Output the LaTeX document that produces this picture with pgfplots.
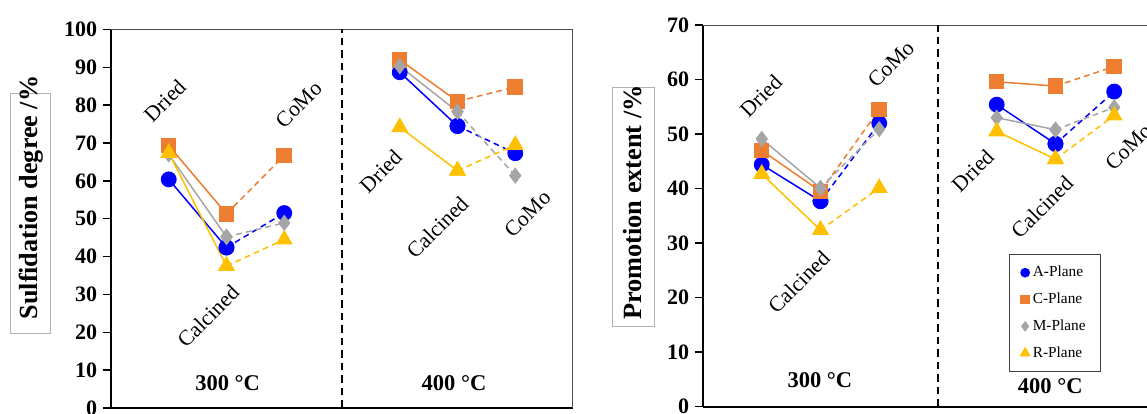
\documentclass[border=0pt]{standalone}
\usepackage{fontspec}
\setmainfont{Liberation Serif}
\usepackage{pgfplots}
\pgfplotsset{compat=1.18}

\definecolor{cA}{RGB}{0,0,255}
\definecolor{cC}{RGB}{237,125,49}
\definecolor{cM}{RGB}{165,165,165}
\definecolor{cR}{RGB}{255,192,0}

\pgfplotsset{
  sA/.style={cA, line width=0.9pt, mark=*, mark size=4.3pt, mark options={solid, fill=cA, draw=cA}},
  sC/.style={cC, line width=0.9pt, mark=square*, mark size=4.2pt, mark options={solid, fill=cC, draw=cC}},
  sM/.style={cM, line width=0.9pt, mark=diamond*, mark size=4.2pt, mark options={solid, fill=cM, draw=cM}},
  sR/.style={cR, line width=0.9pt, mark=triangle*, mark size=5pt, mark options={solid, fill=cR, draw=cR}},
  dsh/.style={dash pattern=on 3.5pt off 2.5pt},
  panel/.style={
    scale only axis, xmin=0, xmax=8, ymin=0,
    axis x line=bottom, axis y line=left,
    axis line style={-, black, line width=1pt},
    xtick=\empty, ytick distance=10,
    tick align=outside, major tick length=4.8pt,
    tick style={black, line width=0.9pt},
    yticklabel style={font=\bfseries\fontsize{13.2}{14}\selectfont},
    /pgf/number format/assume math mode=true,
    clip=false,
  },
}
\tikzset{
  cat/.style={rotate=45, font=\fontsize{13}{14}\selectfont},
  temp/.style={font=\bfseries\fontsize{13.5}{15}\selectfont},
}

\begin{document}
\begin{tikzpicture}[x=0.6pt, y=0.6pt]

% y-label boxes
\draw[black!30, line width=0.5pt] (10,81) rectangle (50.7,320.7);
\node[rotate=90, font=\bfseries\fontsize{15.7}{17}\selectfont] at (30.7,216.5) {Sulfidation degree /\%};
\draw[black!30, line width=0.5pt] (612.5,88) rectangle (654,327);
\node[rotate=90, font=\bfseries\fontsize{15.8}{17}\selectfont] at (632.4,211.5) {Promotion extent /\%};

% ---------- left panel ----------
\begin{axis}[panel, at={(66.6pt,3.6pt)}, anchor=south west,
  width=277.2pt, height=227.1pt, ymax=100]
\draw[black!70, line width=0.6pt] (rel axis cs:0,1) -- (rel axis cs:1,1) -- (rel axis cs:1,0);
\draw[black, line width=1pt, dash pattern=on 4.5pt off 3pt] (axis cs:4,0) -- (axis cs:4,100);

\addplot[sA, forget plot] coordinates {(1,60.4) (2,42.4)};
\addplot[sA, dsh, forget plot] coordinates {(2,42.4) (3,51.5)};
\addplot[sA, forget plot] coordinates {(5,88.7) (6,74.5)};
\addplot[sA, dsh, forget plot] coordinates {(6,74.5) (7,67.3)};

\addplot[sC, forget plot] coordinates {(1,69.3) (2,51.3)};
\addplot[sC, dsh, forget plot] coordinates {(2,51.3) (3,66.7)};
\addplot[sC, forget plot] coordinates {(5,92.0) (6,81.0)};
\addplot[sC, dsh, forget plot] coordinates {(6,81.0) (7,84.8)};

\addplot[sM, forget plot] coordinates {(1,67.0) (2,45.2)};
\addplot[sM, dsh, forget plot] coordinates {(2,45.2) (3,48.9)};
\addplot[sM, forget plot] coordinates {(5,90.3) (6,78.3)};
\addplot[sM, dsh, forget plot] coordinates {(6,78.3) (7,61.4)};

\addplot[sR, forget plot] coordinates {(1,67.4) (2,37.5)};
\addplot[sR, dsh, forget plot] coordinates {(2,37.5) (3,44.5)};
\addplot[sR, forget plot] coordinates {(5,74.2) (6,62.7)};
\addplot[sR, dsh, forget plot] coordinates {(6,62.7) (7,69.5)};

\node[cat] at (axis cs:0.93,81.2) {Dried};
\node[cat] at (axis cs:1.68,24.3) {Calcined};
\node[cat] at (axis cs:3.25,80.2) {CoMo};
\node[cat] at (axis cs:4.67,62.5) {Dried};
\node[cat] at (axis cs:5.65,47.7) {Calcined};
\node[cat] at (axis cs:7.21,51.3) {CoMo};
\node[temp] at (axis cs:2.02,6.7) {300 °C};
\node[temp] at (axis cs:5.94,6.7) {400 °C};
\end{axis}

% ---------- right panel ----------
\begin{axis}[panel, at={(421.8pt,4.38pt)}, anchor=south west,
  width=282pt, height=229pt, ymax=70,
  legend style={at={(axis cs:5.99,17.2)}, anchor=center, draw=black!75, line width=0.8pt,
    font=\fontsize{9.2}{10}\selectfont, row sep=4.2pt, inner xsep=7pt, inner ysep=5pt,
    cells={anchor=west}},
  legend image code/.code={\draw[#1] plot coordinates {(0.12cm,0cm)};}]
\draw[black!70, line width=0.6pt] (rel axis cs:0,1) -- (rel axis cs:1,1) -- (rel axis cs:1,0);
\draw[black, line width=1pt, dash pattern=on 4.5pt off 3pt] (axis cs:4,0) -- (axis cs:4,70);

\addplot[sA, forget plot] coordinates {(1,44.4) (2,37.7)};
\addplot[sA, dsh, forget plot] coordinates {(2,37.7) (3,52.0)};
\addplot[sA, forget plot] coordinates {(5,55.4) (6,48.2)};
\addplot[sA, dsh, forget plot] coordinates {(6,48.2) (7,57.8)};

\addplot[sC, forget plot] coordinates {(1,47.0) (2,39.5)};
\addplot[sC, dsh, forget plot] coordinates {(2,39.5) (3,54.5)};
\addplot[sC, forget plot] coordinates {(5,59.6) (6,58.8)};
\addplot[sC, dsh, forget plot] coordinates {(6,58.8) (7,62.4)};

\addplot[sM, forget plot] coordinates {(1,49.1) (2,40.1)};
\addplot[sM, dsh, forget plot] coordinates {(2,40.1) (3,50.9)};
\addplot[sM, forget plot] coordinates {(5,53.0) (6,50.8)};
\addplot[sM, dsh, forget plot] coordinates {(6,50.8) (7,54.9)};

\addplot[sR, forget plot] coordinates {(1,42.7) (2,32.4)};
\addplot[sR, dsh, forget plot] coordinates {(2,32.4) (3,40.1)};
\addplot[sR, forget plot] coordinates {(5,50.5) (6,45.4)};
\addplot[sR, dsh, forget plot] coordinates {(6,45.4) (7,53.4)};

\addlegendimage{only marks, mark=*, mark size=2.5pt, cA, fill=cA}
\addlegendentry{A-Plane}
\addlegendimage{only marks, mark=square*, mark size=2.5pt, cC, fill=cC}
\addlegendentry{C-Plane}
\addlegendimage{only marks, mark=diamond*, mark size=2.6pt, cM, fill=cM}
\addlegendentry{M-Plane}
\addlegendimage{only marks, mark=triangle*, mark size=3pt, cR, fill=cR}
\addlegendentry{R-Plane}

\node[cat] at (axis cs:0.985,57.0) {Dried};
\node[cat] at (axis cs:1.63,22.9) {Calcined};
\node[cat] at (axis cs:3.2,62.8) {CoMo};
\node[cat] at (axis cs:4.59,43.3) {Dried};
\node[cat] at (axis cs:5.77,36.6) {Calcined};
\node[cat] at (axis cs:7.24,47.6) {CoMo};
\node[temp] at (axis cs:1.99,4.9) {300 °C};
\node[temp] at (axis cs:5.91,3.7) {400 °C};
\end{axis}

\pgfresetboundingbox
\useasboundingbox (0,0) rectangle (1147,414);
\end{tikzpicture}
\end{document}
